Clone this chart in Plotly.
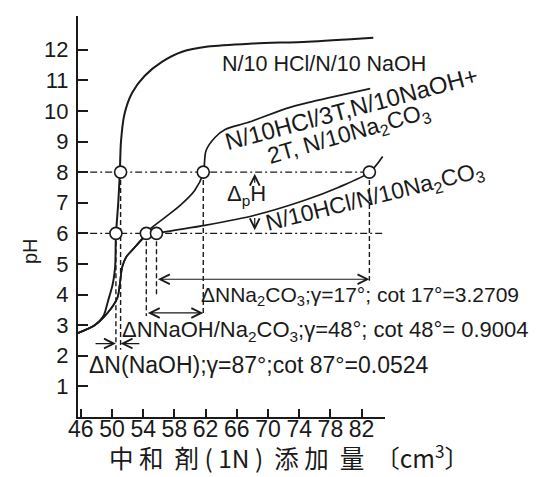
import plotly.graph_objects as go

# ---------------- data ----------------
# shared low part of the two carbonate curves
shared_x = [45.6, 47.8, 49.5, 50.7, 51.0, 51.3, 51.8, 52.9, 54.1]
shared_y = [2.74, 3.0, 3.42, 3.9, 4.34, 4.89, 5.22, 5.54, 5.87]

# N/10 HCl / N/10 NaOH
naoh_x = [45.6, 47.8, 48.9, 49.5, 50.1, 50.4, 50.5, 50.8, 51.0, 51.15, 51.6, 52.6,
          54.2, 56.4, 59.0, 62.3, 68.0, 75.1, 83.5]
naoh_y = [2.74, 3.0, 3.3, 3.8, 4.35, 4.9, 5.93, 7.0, 7.96, 9.0, 9.9, 10.6,
          11.15, 11.6, 11.93, 12.1, 12.2, 12.26, 12.39]

# N/10 HCl / 3T N/10 NaOH + 2T N/10 Na2CO3
mix_x = shared_x + [54.4, 56.8, 58.85, 60.6, 61.7, 62.05, 63.2, 64.5, 67.4, 72.6, 75.1, 83.1]
mix_y = shared_y + [6.03, 6.52, 6.94, 7.4, 7.96, 8.7, 9.13, 9.39, 9.62, 10.1, 10.27, 10.73]

# N/10 HCl / N/10 Na2CO3
carb_x = shared_x + [55.8, 61.9, 68.3, 74.7, 79.0, 83.0, 84.7]
carb_y = shared_y + [6.0, 6.26, 6.59, 7.08, 7.5, 7.99, 8.51]

# marked points
pt_x = [50.5, 51.1, 54.4, 55.7, 61.7, 83.0]
pt_y = [6, 8, 6, 6, 8, 8]

# reference levels
h_levels = [8, 6]
h_start = [47.2, 47.2]
h_end = [83.0, 84.7]
v_x = [50.5, 51.1, 54.4, 55.7, 61.7, 83.0]
v_top = [6, 8, 6, 6, 8, 8]
v_bot = [2.2, 2.2, 3.3, 4.0, 3.3, 4.45]

x_ticks = [46, 50, 54, 58, 62, 66, 70, 74, 78, 82]
y_ticks = list(range(1, 13))

# ---------------- layout geometry ----------------
L, T, R, B = 70, 8, 377, 409
W, H = R - L, B - T

def pxx(p):
    return (p - L) / W

def pyy(p):
    return (B - p) / H

FONT = "Liberation Sans, Arial, Noto Sans CJK JP, sans-serif"
CJK = "Noto Sans CJK JP, Liberation Sans, sans-serif"
INK = "#1a1a1a"

fig = go.Figure()

# reference dash-dot horizontals
for lvl, a, b in zip(h_levels, h_start, h_end):
    fig.add_trace(go.Scatter(x=[a, b], y=[lvl, lvl], mode="lines",
                             line=dict(color=INK, width=1.4, dash="7px,3px,2px,3px"),
                             showlegend=False, hoverinfo="skip"))
# dashed verticals
for xv, a, b in zip(v_x, v_top, v_bot):
    fig.add_trace(go.Scatter(x=[xv, xv], y=[a, b], mode="lines",
                             line=dict(color=INK, width=1.4, dash="5px,3px"),
                             showlegend=False, hoverinfo="skip"))

# curves
for cx, cy, w in [(naoh_x, naoh_y, 2.0), (mix_x, mix_y, 1.7), (carb_x, carb_y, 1.7)]:
    fig.add_trace(go.Scatter(x=cx, y=cy, mode="lines",
                             line=dict(color=INK, width=w, shape="spline", smoothing=0.8),
                             showlegend=False, hoverinfo="skip"))

# circles
fig.add_trace(go.Scatter(x=pt_x, y=pt_y, mode="markers",
                         marker=dict(size=12, color="white", line=dict(color=INK, width=1.6)),
                         showlegend=False, hoverinfo="skip"))

ann = []

def arrow(x0, y0, x1, y1, both=False):
    ann.append(dict(x=x1, y=y1, ax=x0, ay=y0, xref="x", yref="y", axref="x", ayref="y",
                    text="", showarrow=True, arrowhead=5, arrowsize=1.6, arrowwidth=1.2,
                    arrowcolor=INK, arrowside="end+start" if both else "end",
                    standoff=0, startstandoff=0))

arrow(55.7, 4.5, 83.0, 4.5, both=True)
arrow(54.4, 3.4, 61.7, 3.4, both=True)
arrow(47.7, 2.4, 50.5, 2.4)
arrow(53.7, 2.4, 51.1, 2.4)
arrow(68.3, 7.6, 68.3, 7.95)
arrow(68.3, 6.55, 68.3, 6.1)

def label(text, x, y, size=20, angle=0, xanchor="center", family=FONT):
    ann.append(dict(x=pxx(x), y=pyy(y), xref="paper", yref="paper", text=text,
                    showarrow=False, textangle=angle, xanchor=xanchor, yanchor="middle",
                    font=dict(family=family, size=size, color=INK)))

label("N/10 HCl/N/10 NaOH", 316, 56, 21.5)
label("N/10HCl/3T,N/10NaOH+", 343, 100, 24, -15)
label("2T, N/10Na<sub>2</sub>CO<sub>3</sub>", 341, 126, 23, -16)
label("N/10HCl/N/10Na<sub>2</sub>CO<sub>3</sub>", 367, 189, 23, -14)
label("Δ<sub>p</sub>H", 238, 187, 22)
label("ΔNNa<sub>2</sub>CO<sub>3</sub>;γ=17°; cot 17°=3.2709", 191, 288, 21, 0, "left")
label("ΔNNaOH/Na<sub>2</sub>CO<sub>3</sub>;γ=48°; cot 48°= 0.9004", 112, 323, 22, 0, "left")
label("ΔN(NaOH);γ=87°;cot 87°=0.0524", 79, 357, 23, 0, "left")
label("pH", 22, 243, 20, -90)
label("中 和  剤 ( 1N )  添 加  量  〔cm<sup>3</sup>〕", 281, 448, 24.5, family=CJK)

fig.update_layout(
    width=546, height=477,
    margin=dict(l=L, r=546 - R, t=T, b=477 - B, pad=0),
    paper_bgcolor="white", plot_bgcolor="white",
    annotations=ann,
    font=dict(family=FONT, color=INK),
    xaxis=dict(range=[45.64, 85.0], tickvals=x_ticks, ticks="inside", ticklen=8,
               tickwidth=1.5, tickcolor=INK, showline=True, linewidth=2, linecolor=INK,
               showgrid=False, zeroline=False, ticklabelstandoff=-10,
               tickfont=dict(size=23, family=FONT, color=INK)),
    yaxis=dict(range=[0, 13.1], tickvals=y_ticks, ticks="inside", ticklen=10,
               tickwidth=1.5, tickcolor=INK, showline=True, linewidth=2, linecolor=INK,
               showgrid=False, zeroline=False, ticklabelstandoff=3,
               tickfont=dict(size=22, family=FONT, color=INK)),
)

fig.write_html("out.html")
